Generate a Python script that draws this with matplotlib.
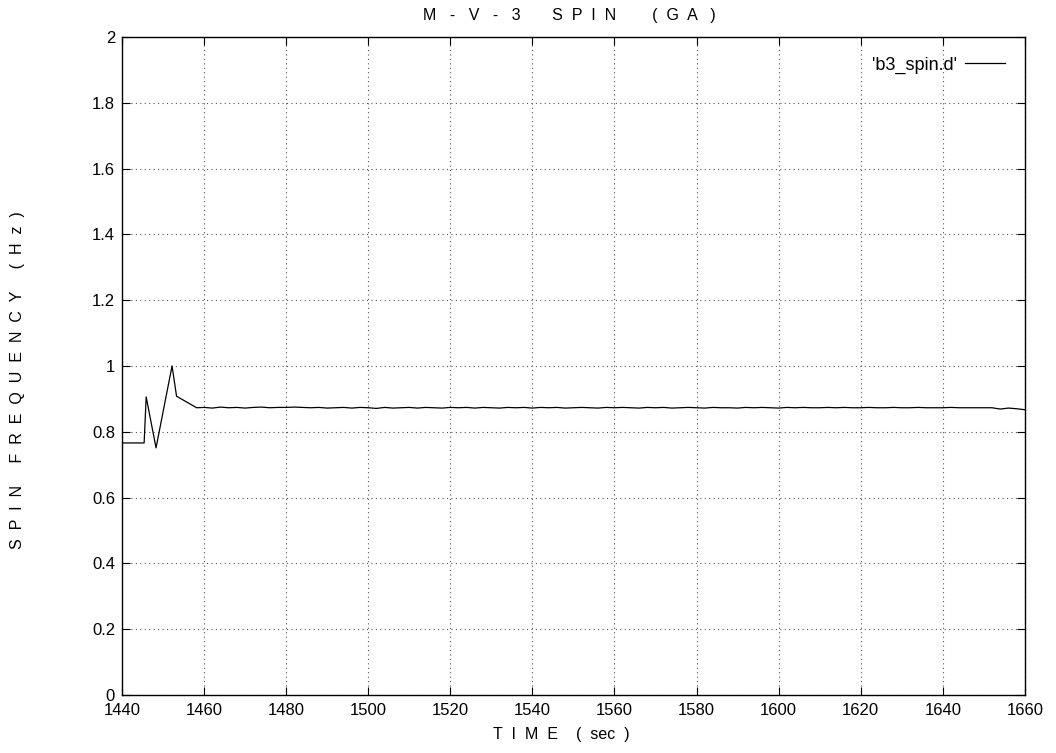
import matplotlib
matplotlib.use('Agg')
import matplotlib.pyplot as plt

plt.rcParams['font.family'] = ['Liberation Sans', 'DejaVu Sans']

# start-up transient
time_start = [1440, 1445.4, 1445.9, 1448.3, 1452.2, 1453.3, 1458.2]
spin_start = [0.766, 0.766, 0.906, 0.751, 1.000, 0.908, 0.873]

# steady part, every 2 s from 1460 to 1660
time_flat = list(range(1460, 1662, 2))
spin_flat = [0.874, 0.872, 0.875, 0.873, 0.874, 0.872, 0.874, 0.875, 0.873, 0.874,
             0.874, 0.875, 0.874, 0.873, 0.874, 0.872, 0.873, 0.874, 0.872, 0.874,
             0.873, 0.871, 0.874, 0.872, 0.873, 0.874, 0.872, 0.874, 0.873, 0.872,
             0.874, 0.873, 0.874, 0.872, 0.874, 0.873, 0.872, 0.874, 0.873, 0.874,
             0.872, 0.874, 0.873, 0.874, 0.872, 0.873, 0.874, 0.873, 0.872, 0.874,
             0.873, 0.874, 0.873, 0.872, 0.874, 0.873, 0.874, 0.872, 0.873, 0.874,
             0.873, 0.872, 0.874, 0.873, 0.873, 0.872, 0.874, 0.873, 0.874, 0.873,
             0.872, 0.874, 0.873, 0.874, 0.873, 0.873, 0.874, 0.873, 0.874, 0.873,
             0.873, 0.874, 0.873, 0.873, 0.874, 0.873, 0.873, 0.874, 0.873, 0.873,
             0.873, 0.874, 0.873, 0.873, 0.873, 0.873, 0.873, 0.869, 0.872, 0.870,
             0.867]

time = time_start + time_flat
spin = spin_start + spin_flat

xticks = list(range(1440, 1661, 20))
yticks = [0, 0.2, 0.4, 0.6, 0.8, 1, 1.2, 1.4, 1.6, 1.8, 2]
ylabels = ['0', '0.2', '0.4', '0.6', '0.8', '1', '1.2', '1.4', '1.6', '1.8', '2']

fig = plt.figure(figsize=(10.56, 7.53), dpi=100)
ax = fig.add_axes([0.1155, 0.077, 0.855, 0.874])

ax.plot(time, spin, color='black', lw=0.9, label="'b3_spin.d'")

ax.set_xlim(1440, 1660)
ax.set_ylim(0, 2)
ax.set_xticks(xticks)
ax.set_yticks(yticks)
ax.set_yticklabels(ylabels)
ax.tick_params(direction='in', top=True, right=True, length=6, width=0.8,
               labelsize=12)
ax.tick_params(axis='x', pad=6)
ax.tick_params(axis='y', pad=5)
ax.grid(True, color='#555555', linestyle=(0, (1, 3)), lw=0.8)
for s in ax.spines.values():
    s.set_linewidth(1.0)

fig.text(0.539, 0.980, 'M   -   V   -   3       S  P  I  N        (  G  A   )',
         ha='center', va='center', fontsize=11.5)
fig.text(0.532, 0.024, 'T  I  M  E    (  sec  )', ha='center', va='center',
         fontsize=11.5)
fig.text(0.017, 0.495, 'S  P  I  N     F  R  E  Q  U  E  N  C  Y     (  H  z  )',
         ha='center', va='center', rotation=90, fontsize=11.5)

leg = ax.legend(loc='upper right', frameon=False, markerfirst=False,
                fontsize=13, handlelength=2.2, handletextpad=0.45,
                borderaxespad=0.7)

fig.savefig('out.png', dpi=100)
